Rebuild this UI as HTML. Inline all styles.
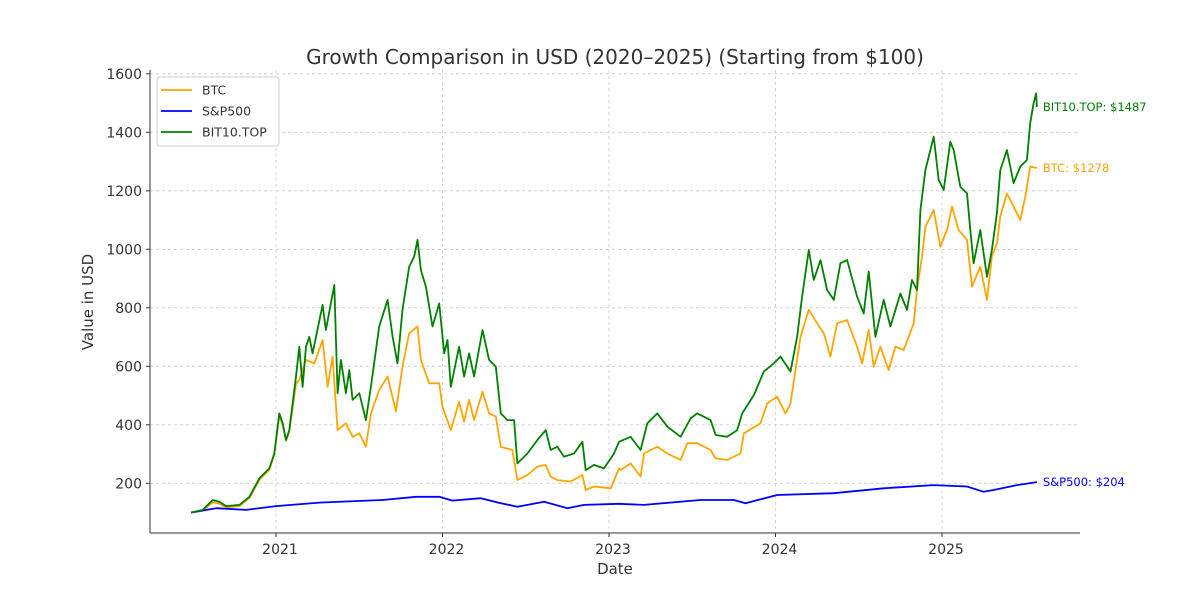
<!DOCTYPE html>
<html><head><meta charset="utf-8"><style>
body{margin:0;background:#fff;font-family:"Liberation Sans","DejaVu Sans",sans-serif}
svg text{font-family:"DejaVu Sans","Liberation Sans",sans-serif}
</style></head><body>
<svg id="chart" width="1200" height="600" viewBox="0 0 1200 600" xmlns="http://www.w3.org/2000/svg">
<rect width="1200" height="600" fill="#fff"/>
<text x="615" y="64" text-anchor="middle" font-size="20" fill="#333">Growth Comparison in USD (2020–2025) (Starting from $100)</text>
<text x="615" y="574" text-anchor="middle" font-size="15" fill="#333">Date</text>
<text transform="translate(93,302) rotate(-90)" text-anchor="middle" font-size="15" fill="#333">Value in USD</text>
<g id="grid"></g><g id="series"></g><g id="axes"></g>
</svg>
<script>
const yTicks=[200,400,600,800,1000,1200,1400,1600];
const xTicks=[2021,2022,2023,2024,2025];
const btcT=[2020.49,2020.56,2020.62,2020.66,2020.70,2020.78,2020.84,2020.90,2020.96,2020.99,2021.02,2021.04,2021.06,2021.08,2021.12,2021.14,2021.18,2021.23,2021.28,2021.31,2021.34,2021.37,2021.42,2021.46,2021.50,2021.54,2021.57,2021.62,2021.67,2021.72,2021.76,2021.80,2021.85,2021.87,2021.92,2021.98,2022.00,2022.05,2022.10,2022.13,2022.16,2022.19,2022.24,2022.28,2022.32,2022.35,2022.42,2022.45,2022.51,2022.57,2022.62,2022.65,2022.69,2022.77,2022.84,2022.86,2022.91,2023.01,2023.06,2023.07,2023.13,2023.19,2023.21,2023.29,2023.35,2023.43,2023.47,2023.53,2023.61,2023.64,2023.71,2023.79,2023.81,2023.91,2023.95,2024.01,2024.06,2024.09,2024.15,2024.20,2024.25,2024.29,2024.33,2024.37,2024.43,2024.49,2024.52,2024.56,2024.59,2024.63,2024.68,2024.72,2024.77,2024.83,2024.85,2024.88,2024.90,2024.95,2024.99,2025.03,2025.06,2025.10,2025.15,2025.18,2025.23,2025.27,2025.30,2025.33,2025.35,2025.39,2025.43,2025.47,2025.50,2025.53,2025.57];
const btcV=[100,106,135,130,118,122,150,212,246,298,430,400,345,378,540,553,622,610,690,530,633,382,405,359,371,325,439,519,565,445,599,713,736,622,542,542,462,382,479,411,485,416,513,439,428,325,314,211,228,257,263,223,211,206,228,177,189,183,251,245,268,223,302,325,302,280,337,337,314,285,280,302,371,405,473,496,439,473,701,793,747,713,633,747,758,667,610,724,599,667,587,667,656,747,861,975,1077,1134,1009,1066,1146,1066,1032,872,941,827,975,1020,1112,1191,1146,1100,1180,1283,1278];
const bitT=[2020.49,2020.56,2020.62,2020.66,2020.70,2020.78,2020.84,2020.90,2020.96,2020.99,2021.02,2021.04,2021.06,2021.08,2021.12,2021.14,2021.16,2021.18,2021.20,2021.22,2021.24,2021.28,2021.30,2021.35,2021.37,2021.39,2021.42,2021.44,2021.46,2021.50,2021.54,2021.57,2021.62,2021.67,2021.70,2021.73,2021.76,2021.80,2021.83,2021.85,2021.87,2021.90,2021.94,2021.98,2022.01,2022.03,2022.05,2022.10,2022.13,2022.16,2022.19,2022.24,2022.28,2022.32,2022.35,2022.39,2022.43,2022.45,2022.51,2022.57,2022.62,2022.65,2022.69,2022.73,2022.79,2022.84,2022.86,2022.91,2022.97,2023.03,2023.06,2023.13,2023.19,2023.23,2023.29,2023.35,2023.43,2023.49,2023.53,2023.61,2023.64,2023.71,2023.77,2023.80,2023.87,2023.93,2023.99,2024.03,2024.09,2024.13,2024.16,2024.20,2024.23,2024.27,2024.31,2024.35,2024.39,2024.43,2024.49,2024.53,2024.56,2024.60,2024.65,2024.69,2024.75,2024.79,2024.82,2024.85,2024.87,2024.90,2024.95,2024.98,2025.01,2025.05,2025.07,2025.11,2025.15,2025.17,2025.19,2025.23,2025.27,2025.30,2025.33,2025.35,2025.39,2025.43,2025.47,2025.51,2025.53,2025.55,2025.565,2025.57];
const bitV=[100,109,143,137,122,126,154,217,251,302,439,405,348,382,565,667,530,667,701,644,701,810,724,878,508,622,508,587,485,508,416,530,736,827,701,610,793,941,975,1032,929,872,736,815,644,690,530,667,565,644,565,724,622,599,439,416,416,268,302,348,382,314,325,291,302,342,245,263,251,302,342,359,314,405,439,394,359,422,439,416,365,359,382,439,502,582,610,633,582,701,838,998,895,963,861,827,952,963,838,781,924,701,827,736,849,793,895,861,1134,1271,1385,1237,1203,1368,1339,1214,1191,1066,952,1066,906,998,1123,1271,1339,1226,1283,1305,1431,1499,1533,1487];
const spxT=[2020.49,2020.64,2020.82,2021.00,2021.26,2021.64,2021.84,2021.98,2022.06,2022.23,2022.35,2022.45,2022.61,2022.75,2022.85,2023.06,2023.21,2023.55,2023.75,2023.82,2024.01,2024.35,2024.65,2024.95,2025.15,2025.25,2025.31,2025.45,2025.57];
const spxV=[100,115,109,122,134,143,154,154,141,149,132,120,137,115,126,130,126,143,143,132,160,166,183,194,189,171,177,194,204];
const NS='http://www.w3.org/2000/svg';
const L=150,R=1080,B=533;
function xs(t){return 276+(t-2021)*166.5;}
function ys(v){return 483.3-(v-200)*0.2925;}
function mk(tag,attrs,parent){const e=document.createElementNS(NS,tag);for(const k in attrs)e.setAttribute(k,attrs[k]);parent.appendChild(e);return e;}
const grid=document.getElementById('grid'),axes=document.getElementById('axes'),ser=document.getElementById('series');
yTicks.forEach(v=>{const y=ys(v);
 const g=mk('line',{x1:L,x2:R,y1:y,y2:y,stroke:'#ccc','stroke-dasharray':'3,3','stroke-width':0.8},grid);
 
 
 mk('line',{x1:L-4,x2:L,y1:y,y2:y,stroke:'#333'},axes);
 const t=mk('text',{x:L-8,y:y+5,'text-anchor':'end','font-size':14,fill:'#333'},axes);t.textContent=v;
 
 
});
xTicks.forEach(v=>{const x=xs(v);
 const g=mk('line',{x1:x,x2:x,y1:70,y2:B,stroke:'#ccc','stroke-dasharray':'3,3','stroke-width':0.8},grid);
 
 
 mk('line',{x1:x,x2:x,y1:B,y2:B+4,stroke:'#333'},axes);
 const t=mk('text',{x:x+4,y:B+21,'text-anchor':'middle','font-size':14,fill:'#333'},axes);t.textContent=v;
 
 
});
mk('line',{x1:L,x2:L,y1:70,y2:B,stroke:'#333','stroke-width':1},axes);
mk('line',{x1:L,x2:R,y1:B,y2:B,stroke:'#333','stroke-width':1},axes);
function line(T,V,c,name){const d=T.map((t,i)=>(i?'L':'M')+xs(t).toFixed(1)+','+ys(V[i]).toFixed(1)).join('');
 const p=mk('path',{d:d,fill:'none',stroke:c,'stroke-width':1.8,'stroke-linejoin':'round'},ser);
 
 
 return p;}
line(btcT,btcV,'orange','btc-line');
line(spxT,spxV,'blue','sp500-line');
line(bitT,bitV,'green','bit10-line');
function endLabel(T,V,c,txt,name){const t=mk('text',{x:xs(T[T.length-1])+6,y:ys(V[V.length-1])+4,'font-size':11.5,fill:c},ser);t.textContent=txt+V[V.length-1];
 
 }
endLabel(bitT,bitV,'green','BIT10.TOP: $','bit10-end-label');
endLabel(btcT,btcV,'orange','BTC: $','btc-end-label');
endLabel(spxT,spxV,'blue','S&P500: $','sp500-end-label');
// legend
const lg=mk('g',{},axes);


mk('rect',{x:157,y:77,width:122,height:69,rx:3,fill:'#fff','fill-opacity':0.85,stroke:'#ccc'},lg);
[['BTC','orange','legend-entry-btc'],['S&P500','blue','legend-entry-sp500'],['BIT10.TOP','green','legend-entry-bit10']].forEach((e,i)=>{const y=90+i*21;
 const g=mk('g',{},lg);
 
 
 mk('line',{x1:161,x2:192,y1:y,y2:y,stroke:e[1],'stroke-width':1.8},g);
 const t=mk('text',{x:202,y:y+4.5,'font-size':12.5,fill:'#333'},g);t.textContent=e[0];});
</script>
</body></html>
